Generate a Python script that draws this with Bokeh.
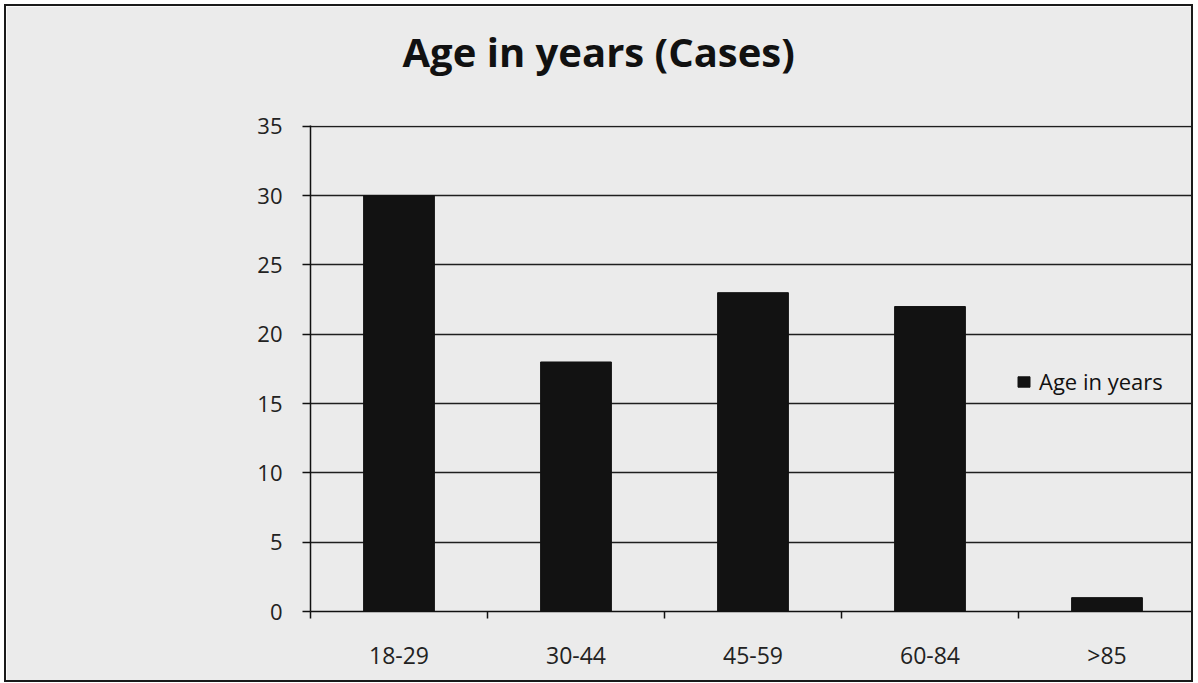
from bokeh.plotting import figure
from bokeh.models import (Range1d, FixedTicker, Title, Legend, LegendItem,
                          ColumnDataSource)
from bokeh.embed import file_html
from bokeh.resources import INLINE

# ---- data ----
categories = ["18-29", "30-44", "45-59", "60-84", ">85"]
cases = [30, 18, 23, 22, 1]
y_ticks = [0, 5, 10, 15, 20, 25, 30, 35]
series_name = "Age in years"
title_text = "Age in years (Cases)"

positions = [i + 0.5 for i in range(len(categories))]
boundaries = list(range(len(categories)))

BG = "#ebebeb"
FONT = "Open Sans"

p = figure(width=1185, height=674, output_backend="svg", toolbar_location=None,
           x_range=Range1d(0, len(categories)), y_range=Range1d(0, 35.06),
           min_border_left=304, min_border_right=0, min_border_top=119,
           min_border_bottom=73)
p.styles = {"border": "2px solid #1a1a1a", "box-sizing": "content-box",
            "margin": "4px"}
p.background_fill_color = BG
p.border_fill_color = BG
p.outline_line_color = None

src = ColumnDataSource(dict(x=positions, top=cases, label=categories))
r = p.vbar(x="x", top="top", width=0.4, source=src, fill_color="#121212",
           line_color="#121212")

# title (outermost) with an empty spacer panel between it and the frame
p.title = Title(text=title_text, align="left", offset=92, text_font=FONT,
                text_font_size="40px", text_font_style="bold",
                text_color="#111111", standoff=0)
spacer = Title(text=" ", text_font_size="1px", standoff=44)
p.add_layout(spacer, "above")

# y axis
p.yaxis.ticker = FixedTicker(ticks=y_ticks)
p.yaxis.axis_line_color = "#111111"
p.yaxis.axis_line_width = 1.5
p.yaxis.major_tick_line_color = "#111111"
p.yaxis.major_tick_line_width = 1.5
p.yaxis.major_tick_out = 8
p.yaxis.major_tick_in = 0
p.yaxis.minor_tick_line_color = None
p.yaxis.major_label_standoff = 20
p.yaxis.major_label_text_font = FONT
p.yaxis.major_label_text_font_size = "22px"
p.yaxis.major_label_text_color = "#222222"

# x axis
p.xaxis.ticker = FixedTicker(ticks=positions, minor_ticks=boundaries)
p.xaxis.major_label_overrides = {pos: lab for pos, lab in zip(positions, categories)}
p.xaxis.axis_line_color = "#111111"
p.xaxis.axis_line_width = 1.5
p.xaxis.major_tick_line_color = None
p.xaxis.major_tick_out = 0
p.xaxis.major_tick_in = 0
p.xaxis.minor_tick_line_color = "#111111"
p.xaxis.minor_tick_line_width = 1.5
p.xaxis.minor_tick_out = 7
p.xaxis.minor_tick_in = 0
p.xaxis.major_label_standoff = 20
p.xaxis.major_label_text_font = FONT
p.xaxis.major_label_text_font_size = "23px"
p.xaxis.major_label_text_color = "#222222"

# grid
p.xgrid.grid_line_color = None
p.ygrid.ticker = FixedTicker(ticks=y_ticks)
p.ygrid.grid_line_color = "#1e1e1e"
p.ygrid.grid_line_width = 1.3

# legend
legend = Legend(items=[LegendItem(label=series_name, renderers=[r])],
                location=(706, 215), padding=0, margin=0, spacing=0,
                glyph_width=15, glyph_height=13, label_standoff=8,
                label_text_font=FONT, label_text_font_size="22px",
                label_text_color="#111111", label_height=20,
                background_fill_alpha=0, border_line_alpha=0)
p.add_layout(legend, "center")

open("out.html", "w").write(file_html(p, INLINE))
